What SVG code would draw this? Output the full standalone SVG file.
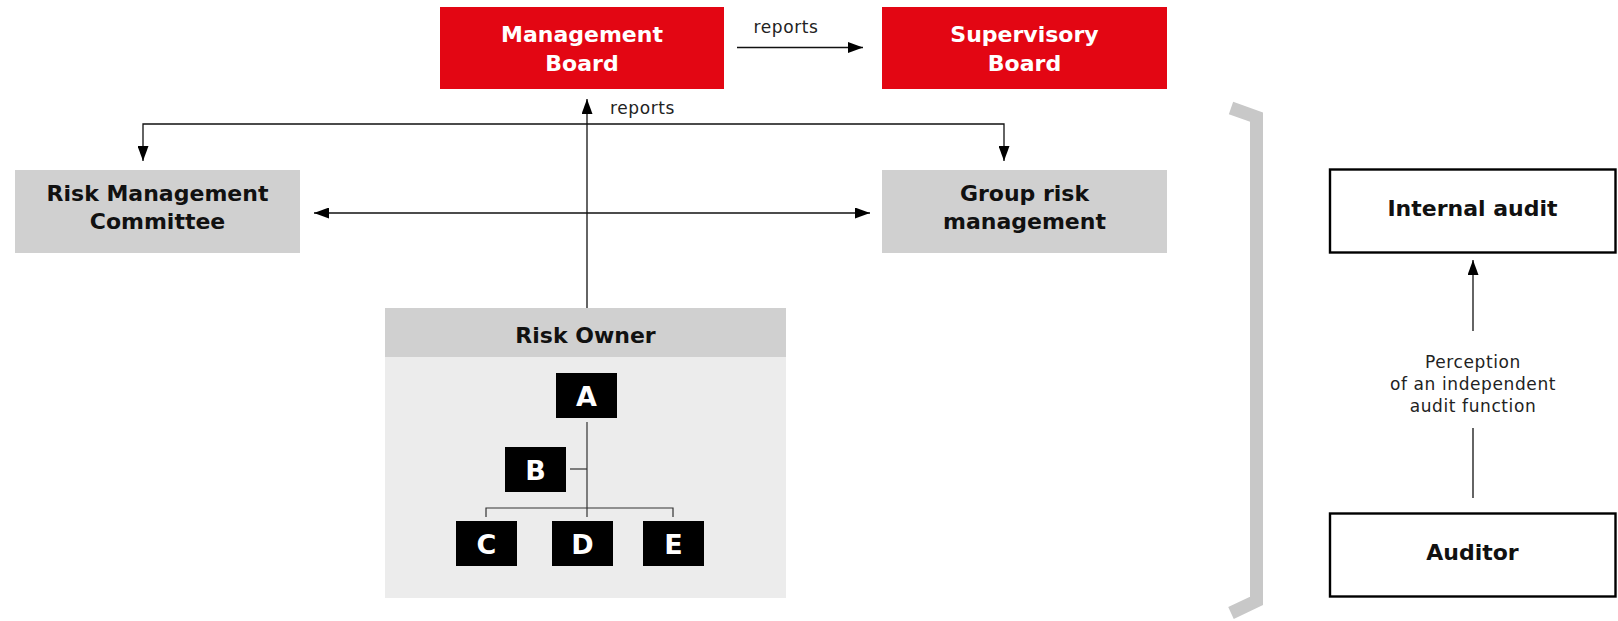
<svg xmlns="http://www.w3.org/2000/svg" width="1618" height="621" viewBox="0 0 1618 621">
<defs>
<style>
.red{fill:#e30613}
.gray{fill:#d0d0d0}
.light{fill:#ececec}
.blk{fill:#000}
.wbox{fill:#fff;stroke:#000;stroke-width:2.4}
.tb{font-family:"DejaVu Sans","Liberation Sans",sans-serif;font-weight:bold;font-size:22px;text-anchor:middle;fill:#111}
.tw{fill:#fff}
.tl{font-family:"DejaVu Sans","Liberation Sans",sans-serif;font-weight:bold;font-size:27px;text-anchor:middle;fill:#fff}
.tr{font-family:"DejaVu Sans","Liberation Sans",sans-serif;font-size:17px;letter-spacing:0.6px;fill:#222}
.ln{fill:none;stroke:#111;stroke-width:1.3}
.tree{fill:none;stroke:#333;stroke-width:1.2}
</style>
<marker id="ah" viewBox="0 0 15 11" refX="15" refY="5.5" markerWidth="15" markerHeight="11" markerUnits="userSpaceOnUse" orient="auto-start-reverse">
<path d="M0,0 L15,5.5 L0,11 Z" fill="#000"/>
</marker>
</defs>
<rect width="1618" height="621" fill="#fff"/>

<g id="connectors">
<line class="ln" x1="737" y1="47.5" x2="863" y2="47.5" marker-end="url(#ah)"/>
<line class="ln" x1="587" y1="308" x2="587" y2="99" marker-end="url(#ah)"/>
<polyline class="ln" points="143,161 143,124 1004,124 1004,161" marker-start="url(#ah)" marker-end="url(#ah)"/>
<line class="ln" x1="314" y1="213" x2="870" y2="213" marker-start="url(#ah)" marker-end="url(#ah)"/>
<line class="ln" x1="1473" y1="331" x2="1473" y2="260" marker-end="url(#ah)"/>
<line class="ln" x1="1473" y1="498" x2="1473" y2="428"/>
<text class="tr" x="786" y="33" text-anchor="middle">reports</text>
<text class="tr" x="610" y="114">reports</text>
<text class="tr" x="1473" y="368" text-anchor="middle">Perception</text>
<text class="tr" x="1473" y="390" text-anchor="middle">of an independent</text>
<text class="tr" x="1473" y="411.5" text-anchor="middle">audit function</text>
</g>

<g id="management-board">
<rect class="red" x="440" y="7" width="284" height="82"/>
<text class="tb tw" x="582" y="42">Management</text>
<text class="tb tw" x="582" y="71">Board</text>
</g>
<g id="supervisory-board">
<rect class="red" x="882" y="7" width="285" height="82"/>
<text class="tb tw" x="1024.5" y="42">Supervisory</text>
<text class="tb tw" x="1024.5" y="71">Board</text>
</g>
<g id="risk-management-committee">
<rect class="gray" x="15" y="170" width="285" height="83"/>
<text class="tb" x="157.5" y="201">Risk Management</text>
<text class="tb" x="157.5" y="229">Committee</text>
</g>
<g id="group-risk-management">
<rect class="gray" x="882" y="170" width="285" height="83"/>
<text class="tb" x="1024.5" y="201">Group risk</text>
<text class="tb" x="1024.5" y="229">management</text>
</g>
<g id="risk-owner">
<rect class="light" x="385" y="308" width="401" height="290"/>
<rect class="gray" x="385" y="308" width="401" height="49"/>
<text class="tb" x="585.5" y="343">Risk Owner</text>
<polyline class="tree" points="587,422 587,517"/>
<polyline class="tree" points="570,469 587,469"/>
<polyline class="tree" points="486,517 486,508 673,508 673,517"/>
</g>
<g id="node-a">
<rect class="blk" x="556" y="373" width="61" height="45"/>
<text class="tl" x="586.5" y="406">A</text>
</g>
<g id="node-b">
<rect class="blk" x="505" y="447" width="61" height="45"/>
<text class="tl" x="535.5" y="480">B</text>
</g>
<g id="node-c">
<rect class="blk" x="456" y="521" width="61" height="45"/>
<text class="tl" x="486.5" y="554">C</text>
</g>
<g id="node-d">
<rect class="blk" x="552" y="521" width="61" height="45"/>
<text class="tl" x="582.5" y="554">D</text>
</g>
<g id="node-e">
<rect class="blk" x="643" y="521" width="61" height="45"/>
<text class="tl" x="673.5" y="554">E</text>
</g>

<g id="bracket">
<path d="M1231,108 L1256.5,117 L1256.5,601 L1231,613" fill="none" stroke="#c8c8c8" stroke-width="13"/>
</g>

<g id="internal-audit">
<rect class="wbox" x="1330" y="169.5" width="285.5" height="83"/>
<text class="tb" x="1472.5" y="216">Internal audit</text>
</g>
<g id="auditor">
<rect class="wbox" x="1330" y="513.5" width="285.5" height="83"/>
<text class="tb" x="1472.5" y="560">Auditor</text>
</g>
</svg>
